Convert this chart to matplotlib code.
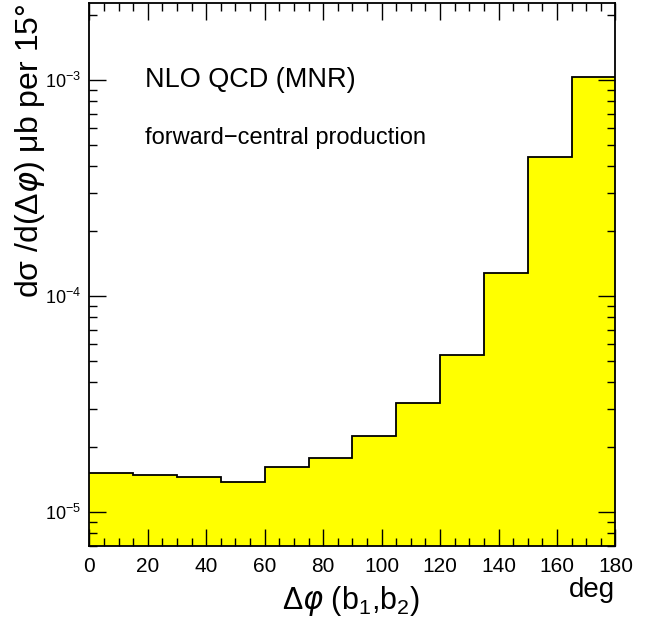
import matplotlib
matplotlib.use('Agg')
import matplotlib.pyplot as plt
import numpy as np
from matplotlib.ticker import LogLocator, MultipleLocator, FixedLocator, FuncFormatter

plt.rcParams['font.family'] = ['Liberation Sans', 'DejaVu Sans']
plt.rcParams['mathtext.fontset'] = 'custom'
plt.rcParams['mathtext.rm'] = 'Liberation Sans'
plt.rcParams['mathtext.it'] = 'DejaVu Sans:italic'
plt.rcParams['mathtext.default'] = 'regular'

# histogram bins (deg) and contents
bin_edges = [0, 15, 30, 45, 60, 75, 90, 105, 120, 135, 150, 165, 180]
dsig = [1.52e-5, 1.48e-5, 1.45e-5, 1.38e-5, 1.62e-5, 1.79e-5,
        2.26e-5, 3.22e-5, 5.33e-5, 1.28e-4, 4.40e-4, 1.036e-3]
y_decades = [1e-5, 1e-4, 1e-3]

fig = plt.figure(figsize=(6.52, 6.22), dpi=100)
ax = fig.add_axes([0.137, 0.1227, 0.807, 0.872])

ymin, ymax = 7.0e-6, 2.27e-3
ax.stairs(dsig, bin_edges, baseline=ymin, fill=True, color='#ffff00', zorder=1)
ax.stairs(dsig, bin_edges, baseline=None, color='black', linewidth=1.3, zorder=2)

ax.set_yscale('log')
ax.set_xlim(0, 180)
ax.set_ylim(ymin, ymax)

ax.xaxis.set_major_locator(MultipleLocator(20))
ax.xaxis.set_minor_locator(MultipleLocator(5))
ax.yaxis.set_major_locator(FixedLocator(y_decades))
ax.yaxis.set_minor_locator(LogLocator(base=10, subs=np.arange(2, 10)))
ax.yaxis.set_minor_formatter(FuncFormatter(lambda v, p: ''))
ax.yaxis.set_major_formatter(FuncFormatter(lambda v, p: r'$10^{%d}$' % round(np.log10(v))))

ax.tick_params(which='both', direction='in', top=True, right=True, labelsize=15, width=1)
ax.tick_params(which='major', length=12)
ax.tick_params(which='minor', length=6)
ax.tick_params(axis='x', pad=8)
ax.tick_params(axis='y', pad=6, labelsize=13)
for s in ax.spines.values():
    s.set_linewidth(1.3)
    s.set_zorder(3)

ax.set_ylabel(r'd$\sigma$ /d($\Delta\mathit{\varphi}$) $\mu$b per 15$\degree$', fontsize=23)
ax.yaxis.set_label_coords(-0.112, 1.0)
ax.yaxis.label.set_ha('right')
ax.yaxis.label.set_va('center')
ax.set_xlabel(r'$\Delta\mathit{\varphi}$ (b$_1$,b$_2$)', fontsize=22)
ax.xaxis.set_label_coords(0.497, -0.07)
ax.xaxis.label.set_va('top')
ax.text(0.955, -0.058, 'deg', transform=ax.transAxes, fontsize=20, ha='center', va='top')

ax.text(0.105, 0.858, 'NLO QCD (MNR)', transform=ax.transAxes, fontsize=19.5, va='center')
ax.text(0.105, 0.752, 'forward\u2212central production', transform=ax.transAxes, fontsize=17, va='center')

fig.savefig('out.png', dpi=100)
